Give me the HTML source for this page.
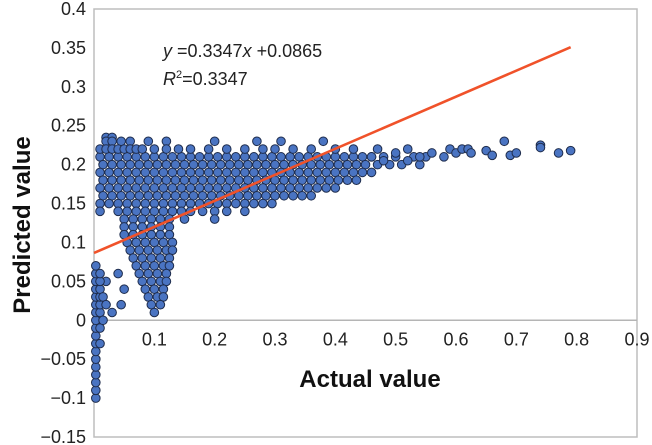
<!DOCTYPE html>
<html><head><meta charset="utf-8"><style>
html,body{margin:0;padding:0;background:#fff;}
svg{display:block;font-family:"Liberation Sans",Arial,sans-serif;}
</style></head><body>
<svg id="chart" width="652" height="445" viewBox="0 0 652 445">
<rect x="94" y="9" width="543" height="428" fill="#fff" stroke="#bdbdbd" stroke-width="1.5"/>
<g id="grid"></g>
<g id="points"></g>
<g id="fit"></g>
<g id="ticks"></g>
<text x="163" y="57" font-size="18" fill="#222"><tspan font-style="italic">y</tspan> =0.3347<tspan font-style="italic">x</tspan> +0.0865</text>
<text x="163" y="85" font-size="18" fill="#222"><tspan font-style="italic">R</tspan><tspan font-size="11" dy="-7">2</tspan><tspan dy="7">=0.3347</tspan></text>
<text x="370" y="387" font-size="24" font-weight="bold" text-anchor="middle" fill="#111">Actual value</text>
<text transform="translate(30,225) rotate(-90)" font-size="24" font-weight="bold" text-anchor="middle" fill="#111">Predicted value</text>
</svg>
<script>
const xTicks = [0.1,0.2,0.3,0.4,0.5,0.6,0.7,0.8,0.9];
const yTicks = [0.4,0.35,0.3,0.25,0.2,0.15,0.1,0.05,0,-0.05,-0.1,-0.15];
const slope = 0.3347, intercept = 0.0865, fitMaxX = 0.79;
const baseA = [0.01,0.025,0.04,0.055,0.07,0.085,0.1,0.115,0.13,0.145,0.16,0.175,0.19,0.205,0.22,0.235,0.25,0.265,0.28,0.295,0.31,0.325,0.34,0.355,0.37,0.385,0.4,0.415,0.43,0.445,0.46,0.48,0.5,0.53,0.55];
const baseB = [0.015,0.03,0.045,0.06,0.075,0.09,0.105,0.12,0.135,0.15,0.165,0.18,0.195,0.21,0.225,0.24,0.255,0.27,0.285,0.3,0.315,0.33,0.345,0.36,0.375,0.39,0.405,0.42,0.435,0.45,0.47,0.49,0.51,0.54];
const bandY = [0.21,0.20,0.19,0.18,0.17,0.16,0.15];
const bandMaxX = [0.55,0.54,0.46,0.44,0.41,0.36,0.30];
const rowY = [0.235,0.23,0.22,0.14,0.13,0.12,0.11,0.10,0.09,0.08,0.07,0.06,0.05,0.04,0.03,0.02,0.01];
const rowX = [
 [0.02,0.03],
 [0.02,0.03,0.045,0.06,0.09,0.12,0.2,0.27,0.31,0.38],
 [0.01,0.02,0.03,0.04,0.05,0.06,0.07,0.08,0.1,0.12,0.14,0.16,0.19,0.22,0.25,0.28,0.3,0.33,0.36,0.4,0.43,0.47,0.52],
 [0.01,0.04,0.055,0.07,0.085,0.1,0.115,0.13,0.145,0.16,0.18,0.2,0.22,0.25],
 [0.05,0.065,0.08,0.095,0.11,0.125,0.15,0.2],
 [0.05,0.065,0.08,0.095,0.11,0.125],
 [0.05,0.065,0.08,0.095,0.11,0.125],
 [0.055,0.07,0.085,0.1,0.115,0.13],
 [0.06,0.075,0.09,0.105,0.12,0.13],
 [0.065,0.08,0.095,0.11,0.125],
 [0.07,0.085,0.1,0.115,0.125],
 [0.075,0.09,0.105,0.12],
 [0.08,0.095,0.11,0.12],
 [0.085,0.1,0.115],
 [0.09,0.105,0.115],
 [0.095,0.11],
 [0.1]
];
const extraX = [0.04,0.05,0.045,0.02,0.03,0.46,0.48,0.5,0.52,0.54,0.56,0.58,0.59,0.6,0.61,0.62,0.625,0.65,0.66,0.68,0.69,0.7,0.74,0.74,0.77,0.79];
const extraY = [0.06,0.04,0.02,0.05,0.01,0.21,0.205,0.215,0.205,0.21,0.215,0.21,0.22,0.215,0.22,0.22,0.215,0.218,0.212,0.23,0.212,0.215,0.225,0.222,0.215,0.218];
const stripX = [0.003,0.003,0.003,0.003,0.003,0.003,0.003,0.003,0.003,0.003,0.003,0.003,0.003,0.003,0.003,0.003,0.003,0.003,0.01,0.01,0.01,0.01,0.01,0.01,0.01,0.01,0.015,0.015,0.02];
const stripY = [-0.1,-0.09,-0.08,-0.07,-0.06,-0.05,-0.04,-0.03,-0.02,-0.01,0,0.01,0.02,0.03,0.04,0.05,0.06,0.07,-0.03,-0.01,0.01,0.02,0.03,0.04,0.05,0.06,0.0,0.03,0.02];

const X0=94, XW=543, YT=9, YH=428;
const sx = v => X0 + v/0.9*XW;
const sy = v => YT + (0.4-v)/0.55*YH;
const NS='http://www.w3.org/2000/svg';
function mk(tag, attrs, parent){const e=document.createElementNS(NS,tag);for(const k in attrs)e.setAttribute(k,attrs[k]);parent.appendChild(e);return e;}

const grid=document.getElementById('grid');
const zl=mk('line',{x1:X0,x2:X0+XW,y1:sy(0),y2:sy(0),stroke:'#b5b5b5','stroke-width':1.5},grid);



const ticks=document.getElementById('ticks');
xTicks.forEach(v=>{
 const t=mk('text',{x:sx(v),y:sy(0)+25,'font-size':18,'text-anchor':'middle',fill:'#222'},ticks);
 t.textContent=String(v);
 
 
});
yTicks.forEach(v=>{
 const t=mk('text',{x:86,y:sy(v)+6,'font-size':18,'text-anchor':'end',fill:'#222'},ticks);
 t.textContent=v<0?('\u2212'+String(-v)):String(v);
 
 
});

const pts=document.getElementById('points');
function dot(x,y){
 const c=mk('circle',{cx:sx(x),cy:sy(y),r:4.3,fill:'#4a74c2',stroke:'#1e2c4c','stroke-width':1},pts);
 
 
}
bandY.forEach((y,i)=>{
 const base = i%2===0 ? baseA : baseB;
 base.filter(x=>x<=bandMaxX[i]).forEach(x=>dot(x,y));
});
rowY.forEach((y,i)=>rowX[i].forEach(x=>dot(x,y)));
extraX.forEach((x,i)=>dot(x,extraY[i]));
stripX.forEach((x,i)=>dot(x,stripY[i]));

const fit=document.getElementById('fit');
const fl=mk('line',{x1:sx(0),y1:sy(intercept),x2:sx(fitMaxX),y2:sy(slope*fitMaxX+intercept),stroke:'#f0522a','stroke-width':2.6},fit);


</script>
</body></html>
